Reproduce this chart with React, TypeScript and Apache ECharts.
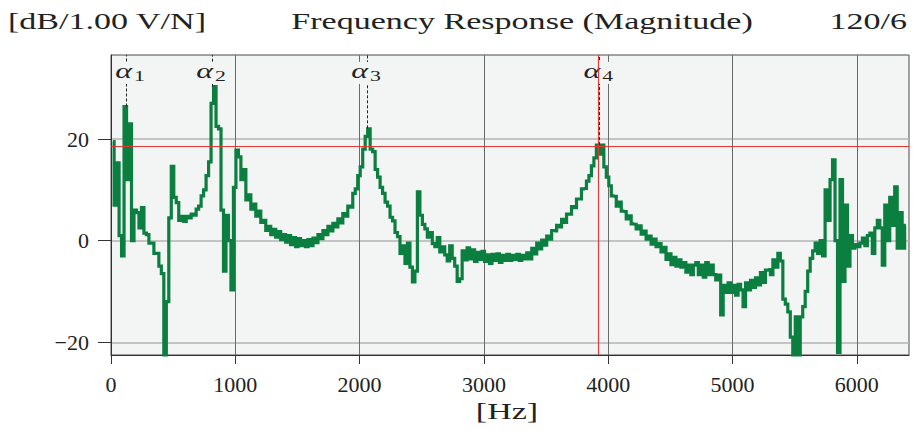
import React, { useEffect, useRef } from "react";
import * as echarts from "echarts";

// ---- data ----
const firstBinHz = 15;
const binStepHz = 20;
const magnitudeDb: number[] = [
  19.5, 7, 15.3, 1, -3, 26.4, 12, 23, 0, 6,
  5.5, 2.5, 6.5, 1.5, 1.2, -0.5, -0.5, -2.5, -2.5, -5,
  -6.5, -24, -12, 4.5, 14.6, 8.5, 7.5, 4, 4.8, 3.8,
  4.8, 4.5, 5.2, 5, 6.2, 6.8, 8.8, 10, 12.8, 15.5,
  27, 30.3, 22.5, 22, 6, -6, 5, 0, -9.7, 10.5,
  17.8, 16.5, 12, 14, 8, 9, 6.2, 7.2, 4.8, 5.8,
  3.6, 4, 2, 2.8, 1.2, 2.2, 0.7, 1.8, 0.2, 1.2,
  -0.3, 1, -0.8, 0.6, -1.2, 0.4, -1, 0, -1.2, 0.2,
  -1, 0.5, -0.4, 1.2, 0.4, 2, 1.2, 2.8, 1.9, 3.4,
  2.7, 4.3, 3.5, 5.3, 4.8, 6.8, 6.6, 9.3, 10.2, 12.8,
  14.5, 18, 20.5, 22, 18, 17.5, 14, 12.5, 10.5, 9.3,
  7.6, 6.8, 4.6, 3.9, 1.6, 0.8, -2.5, -1, -4.5, -0.5,
  -5.2, -8.1, -6, 9.6, 5, 3.2, 2.3, 0.7, 1.6, -0.6,
  -1.2, 0.6, -2.2, -1.2, -2.8, -4, -1, -3.5, -5, -8,
  -7.5, -2, -3.8, -1.4, -3.6, -1.8, -4.1, -2.3, -3.7, -2.1,
  -4.1, -2.8, -4.5, -2.7, -3.9, -2.6, -4.3, -2.9, -3.9, -2.7,
  -3.9, -2.9, -3.7, -2.7, -3.9, -2.9, -3.6, -2.4, -3.6, -1.5,
  -2.6, -0.5, -1.6, 0.1, -0.9, 0.9, 0.3, 2, 1.9, 3,
  2.7, 4.2, 3.6, 5.2, 5.2, 6.7, 6.5, 8.2, 8.2, 10.2,
  10.3, 11.7, 12.8, 14.7, 16.3, 18.8, 17, 18.8, 14.5, 12.5,
  10.8, 8.8, 8.7, 6.8, 7.6, 5.8, 5.7, 4.3, 4.9, 3.3,
  3.2, 2.3, 2.9, 1.3, 1.9, 0.3, 0.9, -0.7, 0.3, -1.2,
  -0.6, -2.2, -1.3, -3.7, -2.6, -4.7, -3.3, -5, -3.8, -5.2,
  -4.3, -6.2, -4.8, -6.7, -4.8, -4.3, -6.7, -4.8, -7.2, -4.3,
  -6.7, -4.8, -6.7, -7.7, -6.8, -14.6, -8.8, -10.2, -8.3, -10.2,
  -8.8, -10.7, -8.6, -9.7, -13, -8.3, -9.7, -7.8, -9.2, -7.3,
  -8.7, -6.3, -8.2, -5.8, -5.7, -6.7, -3.8, -5.2, -2.5, -4,
  -11.5, -12.5, -14, -19, -25, -15, -25, -15, -13, -10,
  -6, -3.5, -2, -0.5, -2.5, 0, -3, 10, 4, 12,
  15.9, 0, -22, 12, -8, 7, -5, 1, -1.5, -0.8,
  -1.2, -0.5, 0.5, -1, 1, 1.5, -2.5, 2.5, 4, 2.5,
  -4.8, 7, 0, 8.5, 3, 10.6, -1.5, 5.5, -1.5, 3,
];
const xTickValues = [0, 1000, 2000, 3000, 4000, 5000, 6000];
const yTickValues = [-20, 0, 20];
const xRange = [0, 6420];
const yRange = [-22.5, 36.53];
const peakSubscripts = ["1", "2", "3", "4"];
const peakHz = [120, 812, 2059, 3928];
const peakDb = [26.4, 30.3, 22.1, 18.8];
const cursorHz = 3920;
const cursorDb = 18.56;
const unitLabel = "[dB/1.00 V/N]";
const titleText = "Frequency Response (Magnitude)";
const pageLabel = "120/6";
const xAxisName = "[Hz]";

// ---- styles ----
const SERIF = "'Liberation Serif', 'Times New Roman', serif";
const GREEN = "#0a7f3f";
const RED = "#e53935";
const BG = "#f3f4f4";
const INK = "#222222";
const STRETCH = 1.45;
const LABEL_DB = 33.2;
const LABEL_MIN_X = 131;

function stretchedText(x: number, y: number, text: string, align: string, size = 23.5, italic = false) {
  return {
    type: "text",
    x,
    y,
    scaleX: STRETCH,
    z: 20,
    silent: true,
    style: {
      text,
      fontFamily: SERIF,
      fontSize: size,
      fontStyle: italic ? "italic" : "normal",
      fill: INK,
      align,
      verticalAlign: "middle",
    },
  };
}

export default function App() {
  const ref = useRef<HTMLDivElement>(null);

  useEffect(() => {
    document.body.style.margin = "0";
    const chart = echarts.init(ref.current!, null, { renderer: "svg" });
    const points = magnitudeDb.map((v, i) => [firstBinHz + i * binStepHz, v]);

    chart.setOption({
      animation: false,
      grid: {
        left: 111,
        top: 55,
        width: 798,
        height: 300,
        show: true,
        backgroundColor: BG,
        borderColor: "#4a4a4a",
        borderWidth: 1,
      },
      xAxis: {
        type: "value",
        min: xRange[0],
        max: xRange[1],
        axisLine: { show: true, onZero: false, lineStyle: { color: "#333", width: 1 } },
        axisTick: { show: true, length: 9, customValues: xTickValues, lineStyle: { color: "#333" } },
        axisLabel: {
          margin: 18,
          customValues: xTickValues,
          fontFamily: SERIF,
          fontSize: 22,
          color: INK,
          formatter: (v: number) => String(v),
        },
        splitLine: { show: true, lineStyle: { color: "#6b6b6b", width: 1 } },
      },
      yAxis: {
        type: "value",
        min: yRange[0],
        max: yRange[1],
        axisLine: { show: true, onZero: false, lineStyle: { color: "#333", width: 1 } },
        axisTick: { show: true, length: 13, customValues: yTickValues, lineStyle: { color: "#333" } },
        axisLabel: {
          margin: 22,
          customValues: yTickValues,
          fontFamily: SERIF,
          fontSize: 22,
          color: INK,
          formatter: (v: number) => (v < 0 ? "\u2212" + Math.abs(v) : String(v)),
        },
        splitLine: { show: true, lineStyle: { color: "#b4b4b4", width: 1.5 } },
      },
      series: [
        {
          type: "line",
          data: points,
          step: "middle",
          symbol: "none",
          showSymbol: false,
          clip: true,
          z: 2,
          lineStyle: { color: GREEN, width: 3.2, join: "miter" },
          markLine: {
            z: 3,
            silent: true,
            symbol: ["none", "none"],
            label: { show: false },
            lineStyle: { color: "#222", width: 1, type: [3, 2] },
            data: peakHz.map((hz, i) => [
              { coord: [hz, peakDb[i]] },
              { coord: [hz, yRange[1]] },
            ]),
          },
        },
        {
          type: "line",
          data: [],
          markLine: {
            z: 6,
            silent: true,
            symbol: ["none", "none"],
            label: { show: false },
            lineStyle: { color: RED, width: 1.2, type: "solid" },
            data: [{ yAxis: cursorDb }, { xAxis: cursorHz }],
          },
        },
      ],
    });

    const g: any[] = [
      stretchedText(8, 21, unitLabel, "left"),
      stretchedText(522, 21, titleText, "center"),
      stretchedText(907, 21, pageLabel, "right"),
      stretchedText(507, 411, xAxisName, "center"),
    ];
    peakHz.forEach((hz, i) => {
      const p = chart.convertToPixel({ xAxisIndex: 0, yAxisIndex: 0 }, [hz, LABEL_DB]) as number[];
      const px = Math.max(p[0], LABEL_MIN_X);
      const py = p[1];
      g.push({
        type: "rect",
        z: 5,
        silent: true,
        shape: { x: px - 15, y: py - 10, width: 30, height: 22 },
        style: { fill: BG },
      });
      g.push({ ...stretchedText(px + 1, py - 1, "\u03b1", "right", 22, true), z: 5 });
      g.push({ ...stretchedText(px + 3, py + 4, peakSubscripts[i], "left", 15), z: 5 });
    });
    chart.setOption({ graphic: g });

    return () => chart.dispose();
  }, []);

  return (
    <div
      ref={ref}
      style={{ position: "fixed", left: 0, top: 0, width: 915, height: 431, background: "#fff" }}
    />
  );
}
